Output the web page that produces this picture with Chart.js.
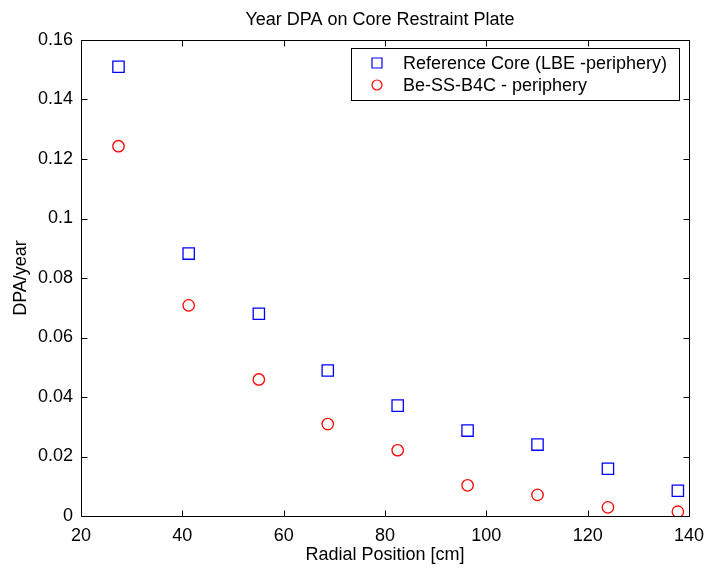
<!DOCTYPE html>
<html>
<head>
<meta charset="utf-8">
<title>Year DPA on Core Restraint Plate</title>
<script src="https://cdn.jsdelivr.net/npm/chart.js@4/dist/chart.umd.min.js"></script>
<style>
  html, body { margin: 0; padding: 0; background: #ffffff; }
  #wrap { width: 704px; height: 568px; }
</style>
</head>
<body>
<div id="wrap"><canvas id="c" width="704" height="568"></canvas></div>
<script>
// Radial positions of the sampled plate locations [cm]
const radialPos = [27.4, 41.25, 55.1, 68.7, 82.5, 96.3, 110.1, 124.0, 137.8];
// DPA per year, reference core (LBE periphery)
const refCoreDPA = [0.151, 0.0882, 0.068, 0.0489, 0.0371, 0.0287, 0.024, 0.0159, 0.0085];
// DPA per year, Be-SS-B4C periphery
const beSsB4cDPA = [0.1243, 0.0708, 0.0459, 0.0309, 0.0221, 0.0103, 0.0071, 0.0029, 0.00145];

const seriesLabels = ['Reference Core (LBE -periphery)', 'Be-SS-B4C - periphery'];
const chartTitle = 'Year DPA on Core Restraint Plate';
const xTicks = [20, 40, 60, 80, 100, 120, 140];
const yTicks = [0, 0.02, 0.04, 0.06, 0.08, 0.1, 0.12, 0.14, 0.16];

const FONT = 'Liberation Sans, Arial, Helvetica, sans-serif';
const toPoints = (xs, ys) => xs.map((x, i) => ({ x: x, y: ys[i] }));

// Title over the axes, box with inward ticks on all four sides, and the legend
const framePlugin = {
  id: 'frame',
  afterDraw(chart) {
    const ctx = chart.ctx;
    const a = chart.chartArea;
    const xs = chart.scales.x, ys = chart.scales.y;
    const L = Math.round(a.left) + 0.5, R = Math.round(a.right) + 0.5;
    const T = Math.round(a.top) + 0.5, B = Math.round(a.bottom) + 0.5;
    const tl = 6;
    ctx.save();

    ctx.fillStyle = '#000000';
    ctx.font = '18px ' + FONT;
    ctx.textAlign = 'center';
    ctx.textBaseline = 'middle';
    ctx.fillText(chartTitle, (a.left + a.right) / 2 - 5, 20);

    ctx.strokeStyle = '#000000';
    ctx.lineWidth = 1;
    ctx.beginPath();
    ctx.rect(L, T, R - L, B - T);
    xTicks.forEach(v => {
      const px = Math.round(xs.getPixelForValue(v)) + 0.5;
      ctx.moveTo(px, B); ctx.lineTo(px, B - tl);
      ctx.moveTo(px, T); ctx.lineTo(px, T + tl);
    });
    yTicks.forEach(v => {
      const py = Math.round(ys.getPixelForValue(v)) + 0.5;
      ctx.moveTo(L, py); ctx.lineTo(L + tl, py);
      ctx.moveTo(R, py); ctx.lineTo(R - tl, py);
    });
    ctx.stroke();

    // Legend box in the upper right corner of the axes
    const bx = 351.5, by = 48.5, bw = 328, bh = 52;
    ctx.fillStyle = '#ffffff';
    ctx.fillRect(bx, by, bw, bh);
    ctx.strokeStyle = '#000000';
    ctx.strokeRect(bx, by, bw, bh);
    ctx.textBaseline = 'middle';
    ctx.textAlign = 'left';
    const rows = [63, 85];
    chart.data.datasets.forEach((ds, i) => {
      const cy = rows[i], cx = 377;
      ctx.strokeStyle = ds.borderColor;
      ctx.lineWidth = 1.2;
      ctx.beginPath();
      if (ds.pointStyle === 'rect') {
        ctx.rect(cx - 5, cy - 5, 10, 10);
      } else {
        ctx.arc(cx, cy, 5, 0, Math.PI * 2);
      }
      ctx.stroke();
      ctx.fillStyle = '#000000';
      ctx.fillText(ds.label, 403, cy + 1);
    });
    ctx.restore();
  }
};

new Chart(document.getElementById('c'), {
  type: 'scatter',
  data: {
    datasets: [
      {
        label: seriesLabels[0],
        data: toPoints(radialPos, refCoreDPA),
        pointStyle: 'rect',
        pointRadius: 8,
        pointHoverRadius: 8,
        borderColor: '#0000ff',
        backgroundColor: 'rgba(0,0,0,0)',
        borderWidth: 1.3,
        showLine: false
      },
      {
        label: seriesLabels[1],
        data: toPoints(radialPos, beSsB4cDPA),
        pointStyle: 'circle',
        pointRadius: 5.7,
        pointHoverRadius: 5.7,
        borderColor: '#ff0000',
        backgroundColor: 'rgba(0,0,0,0)',
        borderWidth: 1.3,
        showLine: false
      }
    ]
  },
  options: {
    responsive: false,
    animation: false,
    events: [],
    layout: { autoPadding: false, padding: { left: 0, right: 15, top: 40, bottom: 0 } },
    plugins: {
      legend: { display: false },
      tooltip: { enabled: false },
      title: { display: false }
    },
    scales: {
      x: {
        type: 'linear',
        min: 20,
        max: 140,
        afterBuildTicks(scale) { scale.ticks = xTicks.map(v => ({ value: v })); },
        afterFit(scale) {
          scale.height = 52;
          scale.paddingLeft = 0;
          scale.paddingRight = 0;
        },
        grid: { display: false, drawTicks: false },
        border: { display: false },
        ticks: {
          color: '#000000',
          padding: 9,
          maxRotation: 0,
          font: { family: FONT, size: 18, lineHeight: 1.2 },
          callback: v => String(v)
        },
        title: {
          display: true,
          text: 'Radial Position [cm]',
          color: '#000000',
          font: { family: FONT, size: 18, lineHeight: 1.2 },
          padding: { top: 0, bottom: 2 }
        }
      },
      y: {
        type: 'linear',
        min: 0,
        max: 0.16,
        afterBuildTicks(scale) { scale.ticks = yTicks.map(v => ({ value: v })); },
        afterFit(scale) {
          scale.width = 81;
          scale.paddingTop = 0;
          scale.paddingBottom = 0;
        },
        grid: { display: false, drawTicks: false },
        border: { display: false },
        ticks: {
          color: '#000000',
          padding: 8,
          font: { family: FONT, size: 18, lineHeight: 1.2 },
          callback: v => String(parseFloat(v.toFixed(2)))
        },
        title: {
          display: true,
          text: 'DPA/year',
          color: '#000000',
          font: { family: FONT, size: 18, lineHeight: 1.2 },
          padding: { top: 10.7, bottom: 0 }
        }
      }
    }
  },
  plugins: [framePlugin]
});
</script>
</body>
</html>
